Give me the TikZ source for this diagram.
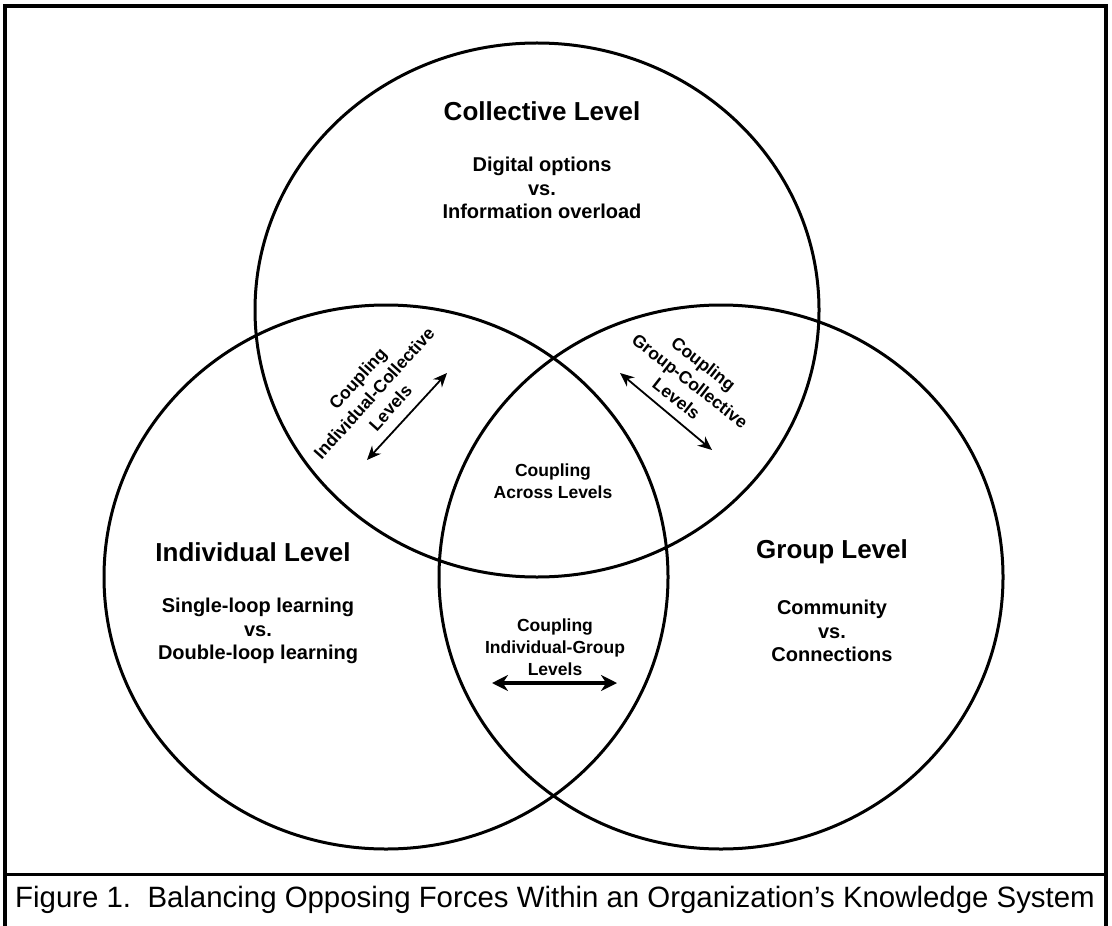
\documentclass[tikz,border=0pt]{standalone}
\usepackage{fontspec}
\setmainfont{Liberation Sans}
\usetikzlibrary{arrows.meta}
\usetikzlibrary{positioning}

\tikzset{
    ring/.style={line width=1.5pt},
    levelhead/.style={font=\fontsize{13}{15}\selectfont\bfseries},
    opposing/.style={font=\fontsize{10}{11.75}\selectfont\bfseries, align=center},
    couple/.style={font=\fontsize{8.75}{11}\selectfont\bfseries, align=center},
    twoway/.style={{Stealth[length=7pt,width=6pt]}-{Stealth[length=7pt,width=6pt]}, line width=0.9pt},
    fattwoway/.style={{Stealth[length=8pt,width=8pt]}-{Stealth[length=8pt,width=8pt]}, line width=2pt},
}

\begin{document}
\begin{tikzpicture}[x=0.5pt,y=-0.5pt]
        \useasboundingbox (0,0) rectangle (1112,925);

        % Frame and caption
        \draw[line width=2pt] (5,935) -- (5,6) -- (1106,6) -- (1106,935);
        \draw[line width=1.5pt] (5,874) -- (1106,874);
        \node[font=\fontsize{14.7}{16}\selectfont] (caption) at (555,900)
            {Figure 1.\ \ Balancing Opposing Forces Within an Organization’s Knowledge System};

        % The three levels
        \draw[ring] (537,310) ellipse [x radius=282, y radius=267];
        \draw[ring] (386,577) ellipse [x radius=282, y radius=272];
        \draw[ring] (721,577) ellipse [x radius=282, y radius=272];

        % Level titles and their opposing forces
        \node[levelhead] (collective) at (542,111) {Collective Level};
        \node[opposing] (collective-t) at (542,188) {Digital options\\vs.\\Information overload};
        \node[levelhead] (individual) at (253,552) {Individual Level};
        \node[opposing] (individual-t) at (258,631) {Single-loop learning\\vs.\\Double-loop learning};
        \node[levelhead] (group) at (832,552) {Group Level};
        \node[opposing] (group-t) at (832,631) {Community\\vs.\\Connections};

        % Couplings
        \node[couple] (across) at (553,481) {Coupling\\Across Levels};
        \node[couple, rotate=48] (ic) at (374,393) {Coupling\\Individual-Collective\\Levels};
        \node[couple, rotate=-38] (gc) at (690,381) {Coupling\\Group-Collective\\Levels};
        \node[couple] (ig) at (555,647) {Coupling\\Individual-Group\\Levels};

        \coordinate (ic-a) at (367,460);
        \coordinate (ic-b) at (447,373);
        \coordinate (gc-a) at (620,373);
        \coordinate (gc-b) at (712,450);
        \coordinate (ig-a) at (492,683);
        \coordinate (ig-b) at (617,683);
        \draw[twoway] (ic-a) -- (ic-b);
        \draw[twoway] (gc-a) -- (gc-b);
        \draw[fattwoway] (ig-a) -- (ig-b);

    \end{tikzpicture}
\end{document}
